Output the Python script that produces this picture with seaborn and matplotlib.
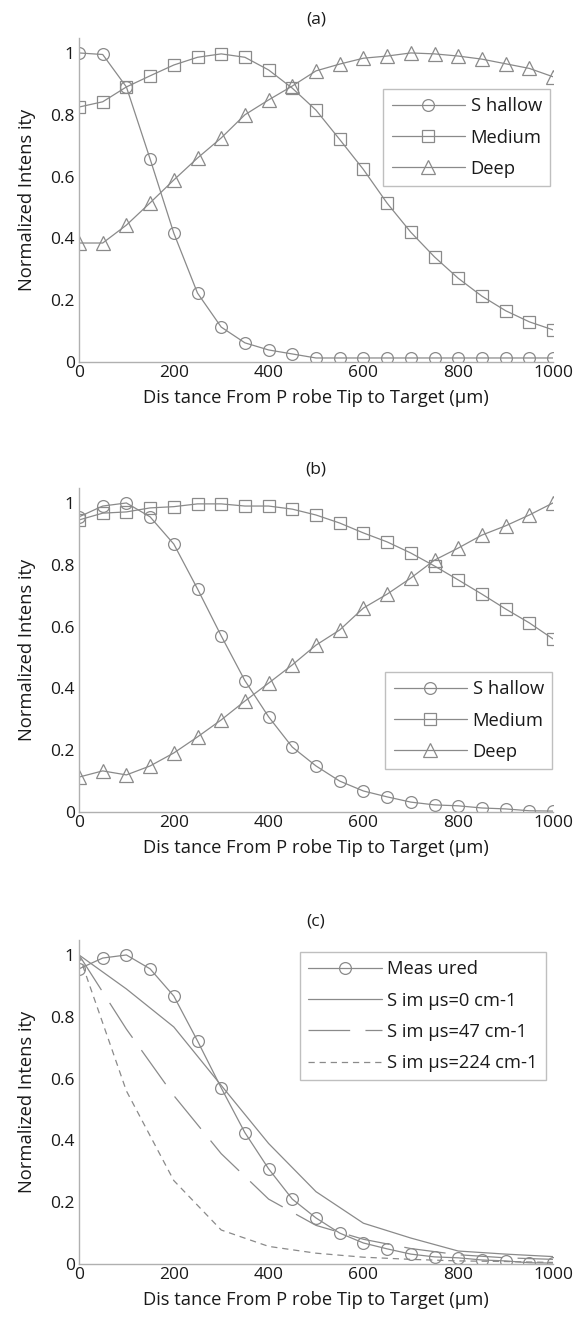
import numpy as np
import pandas as pd
import matplotlib
matplotlib.use("Agg")
import matplotlib.pyplot as plt
import seaborn as sns

# ---------------- data ----------------
x_dist = [0, 50, 100, 150, 200, 250, 300, 350, 400, 450, 500,
          550, 600, 650, 700, 750, 800, 850, 900, 950, 1000]

a_shallow = [1.0, 0.995, 0.89, 0.657, 0.417, 0.223, 0.113, 0.062, 0.039, 0.026, 0.013,
             0.013, 0.013, 0.013, 0.013, 0.013, 0.013, 0.013, 0.013, 0.013, 0.013]
a_medium = [0.825, 0.842, 0.89, 0.926, 0.961, 0.986, 0.997, 0.986, 0.945, 0.886, 0.815,
            0.72, 0.623, 0.514, 0.42, 0.34, 0.271, 0.213, 0.166, 0.13, 0.104]
a_deep = [0.385, 0.385, 0.443, 0.515, 0.589, 0.66, 0.725, 0.80, 0.848, 0.893, 0.942,
          0.964, 0.983, 0.99, 1.0, 0.997, 0.99, 0.98, 0.965, 0.95, 0.923]

b_shallow = [0.955, 0.99, 1.0, 0.955, 0.867, 0.722, 0.57, 0.425, 0.308, 0.21, 0.149,
             0.10, 0.068, 0.049, 0.032, 0.023, 0.02, 0.013, 0.01, 0.004, 0.003]
b_medium = [0.945, 0.967, 0.971, 0.984, 0.988, 0.997, 0.997, 0.99, 0.99, 0.98, 0.961,
            0.935, 0.903, 0.874, 0.838, 0.796, 0.751, 0.705, 0.657, 0.612, 0.56]
b_deep = [0.113, 0.133, 0.12, 0.149, 0.191, 0.243, 0.298, 0.359, 0.417, 0.476, 0.54,
          0.589, 0.66, 0.705, 0.757, 0.815, 0.854, 0.896, 0.926, 0.961, 1.0]

c_measured = b_shallow
x_sim = [0, 100, 200, 300, 400, 500, 600, 700, 800, 900, 1000]
sim_0 = [1.0, 0.89, 0.767, 0.578, 0.39, 0.234, 0.132, 0.084, 0.042, 0.032, 0.024]
sim_47 = [1.0, 0.76, 0.545, 0.357, 0.21, 0.125, 0.08, 0.05, 0.03, 0.02, 0.015]
sim_224 = [1.0, 0.56, 0.27, 0.11, 0.057, 0.035, 0.022, 0.015, 0.01, 0.008, 0.005]

panel_titles = ["(a)", "(b)", "(c)"]
depth_labels = ["S hallow", "Medium", "Deep"]
sim_labels = ["Meas ured", "S im \u03bcs=0 cm-1", "S im \u03bcs=47 cm-1", "S im \u03bcs=224 cm-1"]
x_ticks = [0, 200, 400, 600, 800, 1000]
y_ticks = [0, 0.2, 0.4, 0.6, 0.8, 1.0]
y_ticklabels = ["0", "0.2", "0.4", "0.6", "0.8", "1"]
xlabel = "Dis tance From P robe Tip to Target (\u03bcm)"
ylabel = "Normalized Intens ity"

# ---------------- style ----------------
sns.set_theme(style="white")
plt.rcParams["font.family"] = ["Open Sans", "DejaVu Sans"]
plt.rcParams["lines.scale_dashes"] = False

LINE = "#8a8a8a"
SPINE = "#b0b0b0"
TXT = "#1a1a1a"
FS = 12.5
LFS = 13.2

W, H = 579, 1326
fig = plt.figure(figsize=(W / 100, H / 100), dpi=100)
fig.patch.set_facecolor("white")

ax_left = 79 / W
ax_w = 474 / W
ax_h = 324.5 / H
zero_px = [362, 812, 1264]
axes = [fig.add_axes([ax_left, (H - z) / H, ax_w, ax_h]) for z in zero_px]

mk = dict(mfc="none", mec=LINE, mew=0.9, color=LINE, lw=0.9)


def style_axis(ax, title):
    ax.set_xlim(0, 1000)
    ax.set_ylim(0, 1.05)
    ax.set_xticks(x_ticks)
    ax.set_xticklabels([str(t) for t in x_ticks])
    ax.set_yticks(y_ticks)
    ax.set_yticklabels(y_ticklabels)
    for s in ["top", "right"]:
        ax.spines[s].set_visible(False)
    for s in ["left", "bottom"]:
        ax.spines[s].set_color(SPINE)
        ax.spines[s].set_linewidth(1.0)
    ax.tick_params(direction="in", length=4, width=0.8, color=SPINE,
                   labelsize=FS, labelcolor=TXT, pad=3)
    ax.tick_params(axis="x", pad=2)
    ax.set_xlabel(xlabel, fontsize=LFS, color=TXT, labelpad=6)
    ax.set_ylabel(ylabel, fontsize=LFS, color=TXT, labelpad=10)
    ax.set_title(title, fontsize=FS, color=TXT, pad=10)
    ax.set_facecolor("white")
    ax.grid(False)


def legend(ax, anchor):
    lg = ax.legend(loc="upper right", bbox_to_anchor=anchor, fontsize=LFS,
                   frameon=True, fancybox=False, edgecolor=SPINE,
                   handlelength=4.0, handletextpad=0.3, labelspacing=0.72,
                   borderpad=0.45, borderaxespad=0.0)
    lg.get_frame().set_linewidth(1.0)
    for t in lg.get_texts():
        t.set_color(TXT)


# panels (a) and (b)
datasets = [(a_shallow, a_medium, a_deep), (b_shallow, b_medium, b_deep)]
anchors = [(0.9937, 0.841), (0.998, 0.431)]
markers = ["o", "s", "^"]
msizes = [8.5, 8.5, 9.5]
for i, (ax, data) in enumerate(zip(axes[:2], datasets)):
    for vals, lab, m, ms in zip(data, depth_labels, markers, msizes):
        df = pd.DataFrame({"x": x_dist, "y": vals})
        sns.lineplot(data=df, x="x", y="y", ax=ax, marker=m, ms=ms,
                     label=lab, **mk)
    style_axis(ax, panel_titles[i])
    legend(ax, anchors[i])

# panel (c)
ax = axes[2]
df = pd.DataFrame({"x": x_dist, "y": c_measured})
sns.lineplot(data=df, x="x", y="y", ax=ax, marker="o", ms=8.5, label=sim_labels[0], **mk)
sim_styles = ["-", (0, (30, 11)), (0, (4.5, 3.5))]
for vals, lab, ls in zip([sim_0, sim_47, sim_224], sim_labels[1:], sim_styles):
    df = pd.DataFrame({"x": x_sim, "y": vals})
    sns.lineplot(data=df, x="x", y="y", ax=ax, color=LINE, lw=0.9,
                 linestyle=ls, label=lab)
style_axis(ax, panel_titles[2])
legend(ax, (0.985, 0.961))

fig.savefig("out.png", dpi=100, facecolor="white")
